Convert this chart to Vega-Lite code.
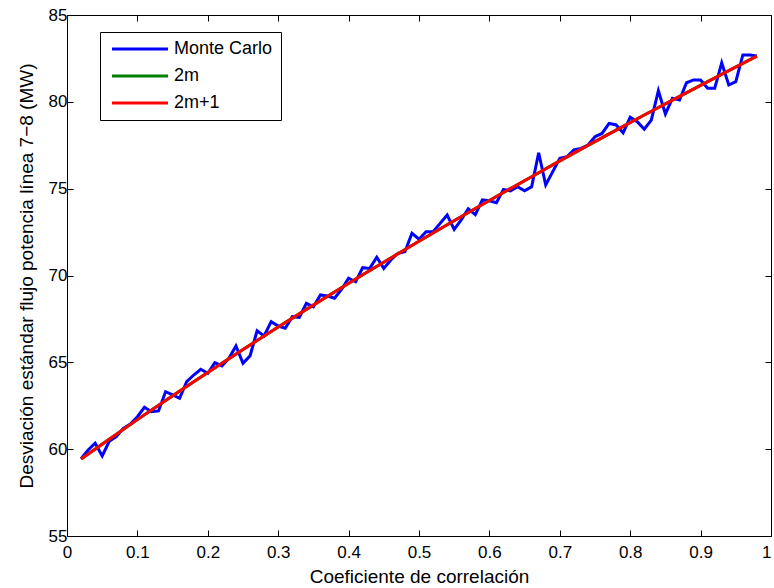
{
  "$schema": "https://vega.github.io/schema/vega-lite/v6.json",
  "width": 704,
  "height": 521,
  "autosize": {"type": "none"},
  "padding": {"left": 67, "top": 15, "right": 3, "bottom": 52},
  "background": "white",
  "config": {
    "view": {"stroke": "black", "strokeWidth": 1},
    "font": "Liberation Sans",
    "axis": {
      "domain": false,
      "grid": false,
      "tickColor": "black",
      "tickSize": -6,
      "tickWidth": 1,
      "labelColor": "black",
      "labelFont": "Liberation Sans",
      "labelFontSize": 17,
      "titleFont": "Liberation Sans",
      "titleFontSize": 19,
      "titleFontWeight": "normal",
      "titleColor": "black"
    },
    "legend": {
      "orient": "none",
      "legendX": 33,
      "legendY": 17,
      "title": null,
      "fillColor": "white",
      "strokeColor": "black",
      "padding": 8,
      "symbolType": "M-8,0H8",
      "symbolSize": 49,
      "symbolOffset": 23,
      "symbolStrokeWidth": 3,
      "labelFont": "Liberation Sans",
      "labelFontSize": 18,
      "labelColor": "black",
      "labelOffset": 25,
      "rowPadding": 9
    }
  },
  "data": {
    "values": [
      {"r": 0.02, "serie": "Monte Carlo", "sd": 59.45},
      {"r": 0.03, "serie": "Monte Carlo", "sd": 59.95},
      {"r": 0.04, "serie": "Monte Carlo", "sd": 60.34},
      {"r": 0.05, "serie": "Monte Carlo", "sd": 59.61},
      {"r": 0.06, "serie": "Monte Carlo", "sd": 60.45},
      {"r": 0.07, "serie": "Monte Carlo", "sd": 60.72},
      {"r": 0.08, "serie": "Monte Carlo", "sd": 61.2},
      {"r": 0.09, "serie": "Monte Carlo", "sd": 61.45},
      {"r": 0.10, "serie": "Monte Carlo", "sd": 61.87},
      {"r": 0.11, "serie": "Monte Carlo", "sd": 62.41},
      {"r": 0.12, "serie": "Monte Carlo", "sd": 62.16},
      {"r": 0.13, "serie": "Monte Carlo", "sd": 62.2},
      {"r": 0.14, "serie": "Monte Carlo", "sd": 63.31},
      {"r": 0.15, "serie": "Monte Carlo", "sd": 63.12},
      {"r": 0.16, "serie": "Monte Carlo", "sd": 62.93},
      {"r": 0.17, "serie": "Monte Carlo", "sd": 63.89},
      {"r": 0.18, "serie": "Monte Carlo", "sd": 64.27},
      {"r": 0.19, "serie": "Monte Carlo", "sd": 64.6},
      {"r": 0.20, "serie": "Monte Carlo", "sd": 64.37},
      {"r": 0.21, "serie": "Monte Carlo", "sd": 64.98},
      {"r": 0.22, "serie": "Monte Carlo", "sd": 64.79},
      {"r": 0.23, "serie": "Monte Carlo", "sd": 65.23},
      {"r": 0.24, "serie": "Monte Carlo", "sd": 65.94},
      {"r": 0.25, "serie": "Monte Carlo", "sd": 64.95},
      {"r": 0.26, "serie": "Monte Carlo", "sd": 65.37},
      {"r": 0.27, "serie": "Monte Carlo", "sd": 66.82},
      {"r": 0.28, "serie": "Monte Carlo", "sd": 66.52},
      {"r": 0.29, "serie": "Monte Carlo", "sd": 67.34},
      {"r": 0.30, "serie": "Monte Carlo", "sd": 67.09},
      {"r": 0.31, "serie": "Monte Carlo", "sd": 66.96},
      {"r": 0.32, "serie": "Monte Carlo", "sd": 67.63},
      {"r": 0.33, "serie": "Monte Carlo", "sd": 67.59},
      {"r": 0.34, "serie": "Monte Carlo", "sd": 68.4},
      {"r": 0.35, "serie": "Monte Carlo", "sd": 68.2},
      {"r": 0.36, "serie": "Monte Carlo", "sd": 68.88},
      {"r": 0.37, "serie": "Monte Carlo", "sd": 68.82},
      {"r": 0.38, "serie": "Monte Carlo", "sd": 68.69},
      {"r": 0.39, "serie": "Monte Carlo", "sd": 69.2},
      {"r": 0.40, "serie": "Monte Carlo", "sd": 69.84},
      {"r": 0.41, "serie": "Monte Carlo", "sd": 69.64},
      {"r": 0.42, "serie": "Monte Carlo", "sd": 70.45},
      {"r": 0.43, "serie": "Monte Carlo", "sd": 70.41},
      {"r": 0.44, "serie": "Monte Carlo", "sd": 71.05},
      {"r": 0.45, "serie": "Monte Carlo", "sd": 70.41},
      {"r": 0.46, "serie": "Monte Carlo", "sd": 70.89},
      {"r": 0.47, "serie": "Monte Carlo", "sd": 71.28},
      {"r": 0.48, "serie": "Monte Carlo", "sd": 71.37},
      {"r": 0.49, "serie": "Monte Carlo", "sd": 72.43},
      {"r": 0.50, "serie": "Monte Carlo", "sd": 72.09},
      {"r": 0.51, "serie": "Monte Carlo", "sd": 72.52},
      {"r": 0.52, "serie": "Monte Carlo", "sd": 72.52},
      {"r": 0.53, "serie": "Monte Carlo", "sd": 73.0},
      {"r": 0.54, "serie": "Monte Carlo", "sd": 73.48},
      {"r": 0.55, "serie": "Monte Carlo", "sd": 72.66},
      {"r": 0.56, "serie": "Monte Carlo", "sd": 73.2},
      {"r": 0.57, "serie": "Monte Carlo", "sd": 73.84},
      {"r": 0.58, "serie": "Monte Carlo", "sd": 73.5},
      {"r": 0.59, "serie": "Monte Carlo", "sd": 74.35},
      {"r": 0.60, "serie": "Monte Carlo", "sd": 74.3},
      {"r": 0.61, "serie": "Monte Carlo", "sd": 74.19},
      {"r": 0.62, "serie": "Monte Carlo", "sd": 74.96},
      {"r": 0.63, "serie": "Monte Carlo", "sd": 74.87},
      {"r": 0.64, "serie": "Monte Carlo", "sd": 75.11},
      {"r": 0.65, "serie": "Monte Carlo", "sd": 74.88},
      {"r": 0.66, "serie": "Monte Carlo", "sd": 75.11},
      {"r": 0.67, "serie": "Monte Carlo", "sd": 77.07},
      {"r": 0.68, "serie": "Monte Carlo", "sd": 75.21},
      {"r": 0.69, "serie": "Monte Carlo", "sd": 75.98},
      {"r": 0.70, "serie": "Monte Carlo", "sd": 76.75},
      {"r": 0.71, "serie": "Monte Carlo", "sd": 76.84},
      {"r": 0.72, "serie": "Monte Carlo", "sd": 77.23},
      {"r": 0.73, "serie": "Monte Carlo", "sd": 77.32},
      {"r": 0.74, "serie": "Monte Carlo", "sd": 77.51},
      {"r": 0.75, "serie": "Monte Carlo", "sd": 77.99},
      {"r": 0.76, "serie": "Monte Carlo", "sd": 78.18},
      {"r": 0.77, "serie": "Monte Carlo", "sd": 78.76},
      {"r": 0.78, "serie": "Monte Carlo", "sd": 78.67},
      {"r": 0.79, "serie": "Monte Carlo", "sd": 78.22},
      {"r": 0.80, "serie": "Monte Carlo", "sd": 79.11},
      {"r": 0.81, "serie": "Monte Carlo", "sd": 78.86},
      {"r": 0.82, "serie": "Monte Carlo", "sd": 78.42},
      {"r": 0.83, "serie": "Monte Carlo", "sd": 78.95},
      {"r": 0.84, "serie": "Monte Carlo", "sd": 80.64},
      {"r": 0.85, "serie": "Monte Carlo", "sd": 79.3},
      {"r": 0.86, "serie": "Monte Carlo", "sd": 80.2},
      {"r": 0.87, "serie": "Monte Carlo", "sd": 80.1},
      {"r": 0.88, "serie": "Monte Carlo", "sd": 81.1},
      {"r": 0.89, "serie": "Monte Carlo", "sd": 81.26},
      {"r": 0.90, "serie": "Monte Carlo", "sd": 81.26},
      {"r": 0.91, "serie": "Monte Carlo", "sd": 80.78},
      {"r": 0.92, "serie": "Monte Carlo", "sd": 80.78},
      {"r": 0.93, "serie": "Monte Carlo", "sd": 82.25},
      {"r": 0.94, "serie": "Monte Carlo", "sd": 80.97},
      {"r": 0.95, "serie": "Monte Carlo", "sd": 81.16},
      {"r": 0.96, "serie": "Monte Carlo", "sd": 82.7},
      {"r": 0.97, "serie": "Monte Carlo", "sd": 82.7},
      {"r": 0.98, "serie": "Monte Carlo", "sd": 82.64},

      {"r": 0.02, "serie": "2m", "sd": 59.43},
      {"r": 0.06, "serie": "2m", "sd": 60.57},
      {"r": 0.10, "serie": "2m", "sd": 61.70},
      {"r": 0.14, "serie": "2m", "sd": 62.80},
      {"r": 0.18, "serie": "2m", "sd": 63.88},
      {"r": 0.22, "serie": "2m", "sd": 64.95},
      {"r": 0.26, "serie": "2m", "sd": 66.00},
      {"r": 0.30, "serie": "2m", "sd": 67.03},
      {"r": 0.34, "serie": "2m", "sd": 68.05},
      {"r": 0.38, "serie": "2m", "sd": 69.05},
      {"r": 0.42, "serie": "2m", "sd": 70.04},
      {"r": 0.46, "serie": "2m", "sd": 71.01},
      {"r": 0.50, "serie": "2m", "sd": 71.97},
      {"r": 0.54, "serie": "2m", "sd": 72.92},
      {"r": 0.58, "serie": "2m", "sd": 73.86},
      {"r": 0.62, "serie": "2m", "sd": 74.78},
      {"r": 0.66, "serie": "2m", "sd": 75.69},
      {"r": 0.70, "serie": "2m", "sd": 76.60},
      {"r": 0.74, "serie": "2m", "sd": 77.49},
      {"r": 0.78, "serie": "2m", "sd": 78.37},
      {"r": 0.82, "serie": "2m", "sd": 79.24},
      {"r": 0.86, "serie": "2m", "sd": 80.10},
      {"r": 0.90, "serie": "2m", "sd": 80.95},
      {"r": 0.94, "serie": "2m", "sd": 81.80},
      {"r": 0.98, "serie": "2m", "sd": 82.63},

      {"r": 0.02, "serie": "2m+1", "sd": 59.43},
      {"r": 0.06, "serie": "2m+1", "sd": 60.57},
      {"r": 0.10, "serie": "2m+1", "sd": 61.70},
      {"r": 0.14, "serie": "2m+1", "sd": 62.80},
      {"r": 0.18, "serie": "2m+1", "sd": 63.88},
      {"r": 0.22, "serie": "2m+1", "sd": 64.95},
      {"r": 0.26, "serie": "2m+1", "sd": 66.00},
      {"r": 0.30, "serie": "2m+1", "sd": 67.03},
      {"r": 0.34, "serie": "2m+1", "sd": 68.05},
      {"r": 0.38, "serie": "2m+1", "sd": 69.05},
      {"r": 0.42, "serie": "2m+1", "sd": 70.04},
      {"r": 0.46, "serie": "2m+1", "sd": 71.01},
      {"r": 0.50, "serie": "2m+1", "sd": 71.97},
      {"r": 0.54, "serie": "2m+1", "sd": 72.92},
      {"r": 0.58, "serie": "2m+1", "sd": 73.86},
      {"r": 0.62, "serie": "2m+1", "sd": 74.78},
      {"r": 0.66, "serie": "2m+1", "sd": 75.69},
      {"r": 0.70, "serie": "2m+1", "sd": 76.60},
      {"r": 0.74, "serie": "2m+1", "sd": 77.49},
      {"r": 0.78, "serie": "2m+1", "sd": 78.37},
      {"r": 0.82, "serie": "2m+1", "sd": 79.24},
      {"r": 0.86, "serie": "2m+1", "sd": 80.10},
      {"r": 0.90, "serie": "2m+1", "sd": 80.95},
      {"r": 0.94, "serie": "2m+1", "sd": 81.80},
      {"r": 0.98, "serie": "2m+1", "sd": 82.63}
    ]
  },
  "layer": [
    {
      "transform": [{"filter": "datum.serie === 'Monte Carlo'"}],
      "mark": {"type": "line", "strokeWidth": 3, "clip": true},
      "encoding": {
        "x": {
          "field": "r", "type": "quantitative",
          "scale": {"domain": [0, 1], "nice": false, "zero": false},
          "axis": {
            "orient": "bottom",
            "values": [0, 0.1, 0.2, 0.3, 0.4, 0.5, 0.6, 0.7, 0.8, 0.9, 1],
            "format": "~g",
            "labelPadding": 14,
            "labelOverlap": false,
            "labelFlush": false,
            "labelAlign": {"condition": {"test": "datum.value === 1", "value": "right"}, "value": "center"},
            "title": "Coeficiente de correlación",
            "titlePadding": 7
          }
        },
        "y": {
          "field": "sd", "type": "quantitative",
          "scale": {"domain": [55, 85], "nice": false, "zero": false},
          "axis": {
            "orient": "left",
            "values": [55, 60, 65, 70, 75, 80, 85],
            "format": "d",
            "labelPadding": 6,
            "labelOverlap": false,
            "labelFlush": false,
            "title": "Desviación estándar flujo potencia línea 7−8 (MW)",
            "titlePadding": 12
          }
        },
        "color": {
          "field": "serie", "type": "nominal",
          "scale": {"domain": ["Monte Carlo", "2m", "2m+1"], "range": ["#0000ff", "#008000", "#ff0000"]}
        }
      }
    },
    {
      "transform": [{"filter": "datum.serie === '2m'"}],
      "mark": {"type": "line", "strokeWidth": 3, "clip": true},
      "encoding": {
        "x": {
          "field": "r", "type": "quantitative",
          "axis": {"orient": "top", "values": [0, 0.1, 0.2, 0.3, 0.4, 0.5, 0.6, 0.7, 0.8, 0.9, 1], "labels": false, "title": null}
        },
        "y": {
          "field": "sd", "type": "quantitative",
          "axis": {"orient": "right", "values": [55, 60, 65, 70, 75, 80, 85], "labels": false, "title": null}
        },
        "color": {"field": "serie", "type": "nominal"}
      }
    },
    {
      "transform": [{"filter": "datum.serie === '2m+1'"}],
      "mark": {"type": "line", "strokeWidth": 3, "clip": true},
      "encoding": {
        "x": {"field": "r", "type": "quantitative", "axis": null},
        "y": {"field": "sd", "type": "quantitative", "axis": null},
        "color": {"field": "serie", "type": "nominal"}
      }
    }
  ]
}
